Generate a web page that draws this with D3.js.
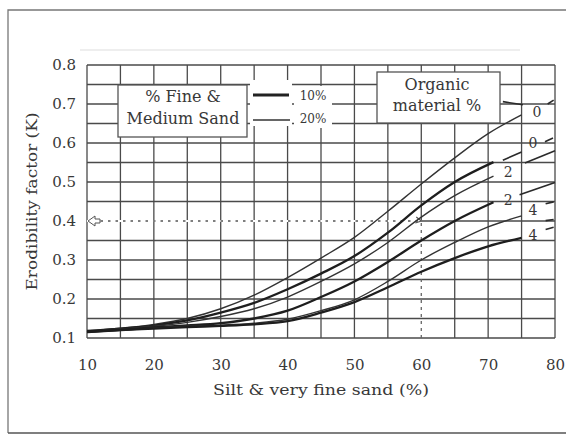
<!DOCTYPE html>
<html><head><meta charset="utf-8">
<script src="https://cdn.jsdelivr.net/npm/d3@7"></script>
<style>
html,body{margin:0;padding:0;background:#fff;}
svg{display:block;}
text{font-family:"DejaVu Serif","Liberation Serif",serif;fill:#383838;}
</style></head><body>
<svg id="c" width="580" height="436"></svg>
<script>
// ---- data ----
const xTicks = [10,20,30,40,50,60,70,80];
const yTicks = [0.1,0.2,0.3,0.4,0.5,0.6,0.7,0.8];
const xGrid = [10,15,20,25,30,35,40,45,50,55,60,65,70,75,80];
const yGrid = [0.1,0.15,0.2,0.25,0.3,0.35,0.4,0.45,0.5,0.55,0.6,0.65,0.7,0.75,0.8];
const silt = [10,15,20,25,30,35,40,45,50,55,60,65,70,75];
const kOM0a = [0.118,0.125,0.135,0.150,0.175,0.210,0.255,0.305,0.358,0.425,0.495,0.562,0.624,0.672];
const kOM0b = [0.118,0.124,0.132,0.145,0.165,0.190,0.225,0.265,0.310,0.370,0.440,0.500,0.551];
const kOM2a = [0.117,0.123,0.130,0.140,0.155,0.175,0.205,0.245,0.290,0.345,0.410,0.465,0.515];
const kOM2b = [0.116,0.121,0.127,0.132,0.138,0.150,0.170,0.205,0.245,0.295,0.350,0.400,0.448];
const kOM4a = [0.115,0.120,0.125,0.130,0.133,0.138,0.148,0.170,0.198,0.245,0.300,0.345,0.385,0.413];
const kOM4b = [0.115,0.120,0.124,0.128,0.131,0.135,0.143,0.165,0.192,0.230,0.270,0.305,0.335,0.357];
const seriesK = [kOM0a,kOM0b,kOM2a,kOM2b,kOM4a,kOM4b];
const seriesThick = [false,true,false,true,false,true];
const curveLabels = ["0","0","2","2","4","4"];
const labelX = [77.3,76.7,73.0,73.0,76.7,76.7];
const labelY = [0.680,0.600,0.526,0.454,0.428,0.364];
// stray segments at the right margin (data units)
const segs = [
  [[75.5,0.549],[80,0.580]],
  [[74.7,0.467],[80,0.499]],
  [[72.2,0.556],[75.0,0.577]],
  [[72.2,0.706],[75.2,0.698]],
  [[78.9,0.700],[79.8,0.710]],
  [[78.5,0.603],[79.7,0.613]],
  [[78.6,0.444],[79.8,0.449]],
  [[78.6,0.401],[79.8,0.404]],
  [[78.6,0.378],[79.8,0.384]]
];
const readX = 60, readK = 0.4;
const legendSand = ["10%","20%"];
const boxSand = ["% Fine &","Medium Sand"];
const boxOrg = ["Organic","material %"];

// ---- drawing ----
const svg = d3.select("#c");
const x = d3.scaleLinear().domain([10,80]).range([87,555]);
const y = d3.scaleLinear().domain([0.1,0.8]).range([338,65]);

// outer frame
svg.append("path").attr("d","M8,433 L8,10 L566,10").attr("fill","none").attr("stroke","#777").attr("stroke-width",1.3);
svg.append("line").attr("x1",8).attr("x2",566).attr("y1",433).attr("y2",433).attr("stroke","#555").attr("stroke-width",1.5);
svg.append("line").attr("x1",80).attr("x2",520).attr("y1",50).attr("y2",50).attr("stroke","#e8e8e8").attr("stroke-width",1.5);

const grid = svg.append("g");
grid.selectAll("line.h").data(yGrid).join("line")
  .attr("x1",x(10)).attr("x2",x(80)).attr("y1",d=>y(d)).attr("y2",d=>y(d))
  .attr("stroke","#4a4a4a").attr("stroke-width",1.3);
grid.selectAll("line.v").data(xGrid.filter(d=>d!==readX)).join("line")
  .attr("x1",d=>x(d)).attr("x2",d=>x(d)).attr("y1",y(0.1)).attr("y2",y(0.8))
  .attr("stroke","#4a4a4a").attr("stroke-width",1.3);
// 60 line: solid above reading, dotted below
grid.append("line").attr("x1",x(readX)).attr("x2",x(readX)).attr("y1",y(readK)).attr("y2",y(0.8))
  .attr("stroke","#4a4a4a").attr("stroke-width",1.3);
grid.append("line").attr("x1",x(readX)).attr("x2",x(readX)).attr("y1",y(0.1)).attr("y2",y(readK))
  .attr("stroke","#666").attr("stroke-width",1.3).attr("stroke-dasharray","3,4");
// 0.4 reading: dotted overlay
svg.append("line").attr("x1",x(10)).attr("x2",x(readX)).attr("y1",y(readK)).attr("y2",y(readK))
  .attr("stroke","#fff").attr("stroke-width",2);
svg.append("line").attr("x1",x(10)+6).attr("x2",x(readX)).attr("y1",y(readK)).attr("y2",y(readK))
  .attr("stroke","#555").attr("stroke-width",1.5).attr("stroke-dasharray","2.5,5");
// arrow heads
svg.append("path").attr("d",`M${x(10)+1},${y(readK)} l7,-5 l0,3 l5,0 l0,4 l-5,0 l0,3 z`)
  .attr("fill","#fff").attr("stroke","#555").attr("stroke-width",1);
svg.append("path").attr("d",`M${x(readX)-5},${y(readK)-4} l5,4 l-6,2`).attr("fill","none").attr("stroke","#555").attr("stroke-width",1.2);

// curves
const line = d3.line().x(d=>x(d[0])).y(d=>y(d[1])).curve(d3.curveMonotoneX);
seriesK.forEach((ks,i)=>{
  const pts = ks.map((k,j)=>[silt[j],k]);
  if (ks.length===13) pts[12][0]=70.8;
  svg.append("path").attr("d",line(pts)).attr("fill","none")
    .attr("stroke",seriesThick[i]?"#1e1e1e":"#333")
    .attr("stroke-width",seriesThick[i]?2.3:1.4);
});
segs.forEach(s=>{
  svg.append("line").attr("x1",x(s[0][0])).attr("y1",y(s[0][1])).attr("x2",x(s[1][0])).attr("y2",y(s[1][1]))
    .attr("stroke","#2a2a2a").attr("stroke-width",1.6);
});
svg.selectAll("text.cl").data(curveLabels).join("text").attr("class","cl")
  .attr("x",(d,i)=>x(labelX[i])).attr("y",(d,i)=>y(labelY[i])).attr("dy","0.35em")
  .attr("text-anchor","middle").attr("font-size",14).text(d=>d);

// axes labels
const ax = svg.append("g").attr("transform",`translate(0,${y(0.1)})`)
  .call(d3.axisBottom(x).tickValues(xTicks).tickSize(0).tickPadding(21).tickFormat(d3.format("d")));
ax.select(".domain").remove();
ax.selectAll("text").attr("font-size",15).attr("font-family","DejaVu Serif").attr("fill","#383838");
const ay = svg.append("g").attr("transform",`translate(${x(10)},0)`)
  .call(d3.axisLeft(y).tickValues(yTicks).tickSize(0).tickPadding(11).tickFormat(d3.format(".1f")));
ay.select(".domain").remove();
ay.selectAll("text").attr("font-size",15).attr("font-family","DejaVu Serif").attr("fill","#383838");

svg.append("text").attr("x",(x(10)+x(80))/2).attr("y",395).attr("text-anchor","middle")
  .attr("font-size",15).attr("textLength",216).attr("lengthAdjust","spacingAndGlyphs").text("Silt & very fine sand (%)");
svg.append("text").attr("transform",`translate(37,${(y(0.1)+y(0.8))/2}) rotate(-90)`).attr("text-anchor","middle")
  .attr("font-size",15).attr("textLength",178).attr("lengthAdjust","spacingAndGlyphs").text("Erodibility factor (K)");

// legend box: sand
svg.append("rect").attr("x",118).attr("y",85).attr("width",129).attr("height",52)
  .attr("fill","#fff").attr("stroke","#555").attr("stroke-width",1.3);
boxSand.forEach((t,i)=>svg.append("text").attr("x",183).attr("y",96+i*22).attr("dy","0.35em")
  .attr("text-anchor","middle").attr("font-size",16).text(t));
// sand legend lines
svg.append("rect").attr("x",250).attr("y",80).attr("width",42).attr("height",46).attr("fill","#fff");
svg.append("line").attr("x1",253).attr("x2",289).attr("y1",95).attr("y2",95).attr("stroke","#222").attr("stroke-width",3.2);
svg.append("line").attr("x1",253).attr("x2",290).attr("y1",120).attr("y2",120).attr("stroke","#333").attr("stroke-width",1.4);
svg.append("rect").attr("x",294).attr("y",86).attr("width",38).attr("height",42).attr("fill","#fff");
legendSand.forEach((t,i)=>svg.append("text").attr("x",313).attr("y",96+i*23).attr("dy","0.35em")
  .attr("text-anchor","middle").attr("font-size",12).text(t));

// legend box: organic
svg.append("rect").attr("x",377).attr("y",72).attr("width",123).attr("height",51)
  .attr("fill","#fff").attr("stroke","#555").attr("stroke-width",1.3);
boxOrg.forEach((t,i)=>svg.append("text").attr("x",437).attr("y",84+i*21).attr("dy","0.35em")
  .attr("text-anchor","middle").attr("font-size",16).text(t));
</script></body></html>
